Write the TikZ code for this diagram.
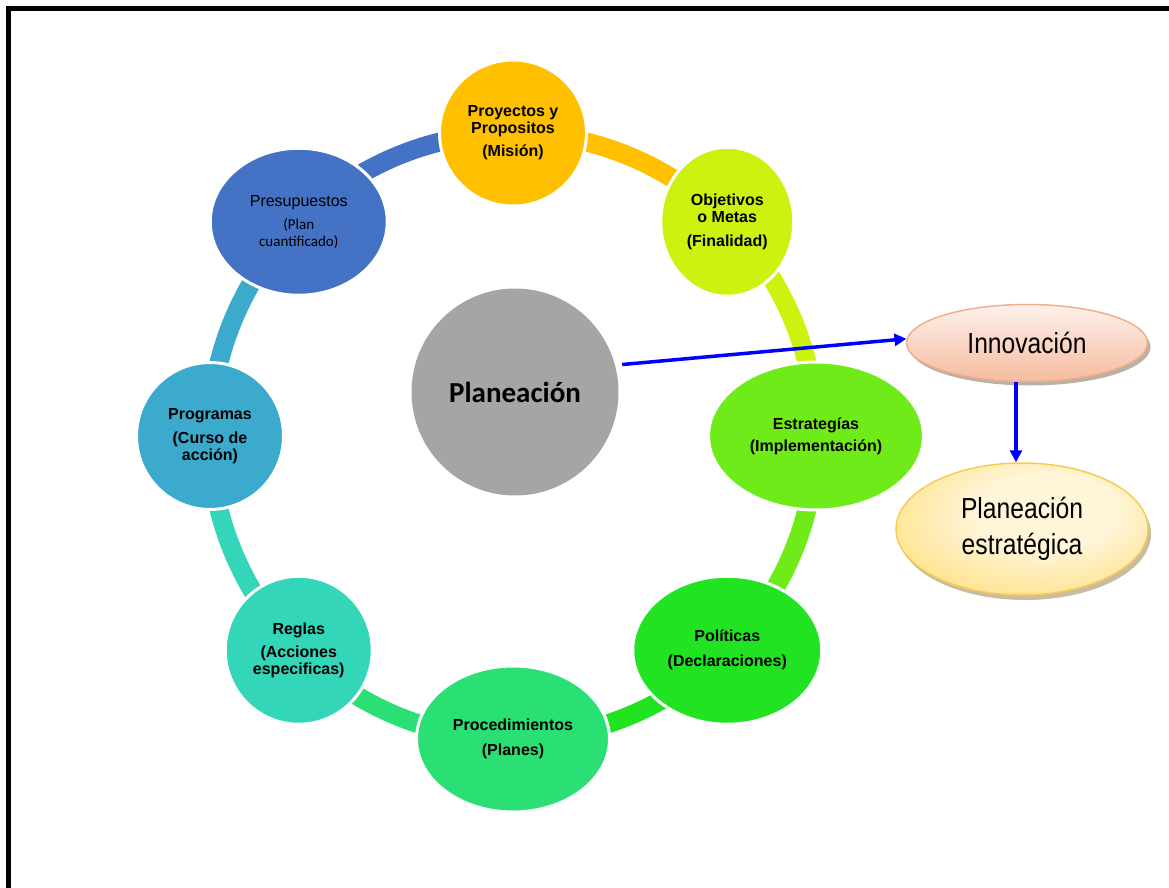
\documentclass[tikz,border=0pt]{standalone}
\usepackage{fontspec}
\setmainfont{Liberation Sans}
\newfontfamily\calfont{Carlito}
\newfontfamily\narrowfont[FakeStretch=0.85]{Liberation Sans}
\usetikzlibrary{shapes.geometric,shadows,calc,arrows.meta}

% stage colours, clockwise from the top
\definecolor{cProy}{HTML}{FFC000}
\definecolor{cObj}{HTML}{CCF20F}
\definecolor{cEst}{HTML}{70EB1A}
\definecolor{cPol}{HTML}{22E322}
\definecolor{cProc}{HTML}{2ADF74}
\definecolor{cReg}{HTML}{33D6B8}
\definecolor{cProg}{HTML}{3BAACC}
\definecolor{cPres}{HTML}{4472C4}
\definecolor{cCore}{HTML}{A5A5A5}
\definecolor{cLink}{HTML}{0000FF}
% side ellipses
\definecolor{innTop}{HTML}{FDF1EC}
\definecolor{innBot}{HTML}{F6BC9E}
\definecolor{innLine}{HTML}{F2AE88}
\definecolor{innShadow}{HTML}{9C8E80}
\definecolor{stratIn}{HTML}{FFF5D8}
\definecolor{stratMid}{HTML}{FFE595}
\definecolor{stratOut}{HTML}{FFD452}
\definecolor{stratLine}{HTML}{F8CB55}
\definecolor{stratShadow}{HTML}{B0A07A}

\pgfdeclareradialshading{goldglow}{\pgfpoint{6bp}{8bp}}{%
  color(0bp)=(stratIn); color(14bp)=(stratIn); color(30bp)=(stratMid);
  color(46bp)=(stratOut); color(70bp)=(stratOut)}

\begin{document}
\begin{tikzpicture}[x=1pt,y=1pt,
  ring/.style={line width=19pt},
  stage/.style={ellipse, draw=white, line width=3pt, inner sep=0pt,
    align=center, text=black,
    font=\bfseries\fontsize{16}{17}\selectfont},
  link/.style={draw=cLink, line width=3.5pt,
    -{Triangle[length=12pt,width=12pt]}},
]
\useasboundingbox (0,0) rectangle (1169,-888);

% page frame (top and left edges)
\draw[line width=5.5pt, line join=miter] (8.5,-888) -- (8.5,-8.5) -- (1169,-8.5);

% centre of the ring
\coordinate (c) at (513,-436);

% ring segments, each in the colour of the stage it leaves
\draw[ring, cPres] ($(c)+(135:303)$) arc[start angle=135, end angle=90,   radius=303];
\draw[ring, cProy] ($(c)+(90:303)$)  arc[start angle=90,  end angle=45,   radius=303];
\draw[ring, cObj]  ($(c)+(45:303)$)  arc[start angle=45,  end angle=0,    radius=303];
\draw[ring, cEst]  ($(c)+(0:303)$)   arc[start angle=0,   end angle=-45,  radius=303];
\draw[ring, cPol]  ($(c)+(-45:303)$) arc[start angle=-45, end angle=-90,  radius=303];
\draw[ring, cProc] ($(c)+(-90:303)$) arc[start angle=-90, end angle=-135, radius=303];
\draw[ring, cReg]  ($(c)+(-135:303)$) arc[start angle=-135, end angle=-180, radius=303];
\draw[ring, cProg] ($(c)+(180:303)$) arc[start angle=180, end angle=135,  radius=303];

% stages
\node[stage, fill=cProy, minimum width=147pt, minimum height=146pt] (proy)
  at ($(c)+(90:303)$) {Proyectos y\\Propositos\\[6pt](Misión)};
\node[stage, fill=cObj, minimum width=133pt, minimum height=149pt] (obj)
  at ($(c)+(45:303)$) {Objetivos\\o Metas\\[7pt](Finalidad)};
\node[stage, fill=cEst, minimum width=215pt, minimum height=148pt] (est)
  at ($(c)+(0:303)$) {Estrategías\\[5pt](Implementación)};
\node[stage, fill=cPol, minimum width=189pt, minimum height=148pt] (pol)
  at ($(c)+(-45:303)$) {Políticas\\[8pt](Declaraciones)};
\node[stage, fill=cProc, minimum width=193pt, minimum height=146pt] (proc)
  at ($(c)+(-90:303)$) {Procedimientos\\[8pt](Planes)};
\node[stage, fill=cReg, minimum width=147pt, minimum height=148pt] (reg)
  at ($(c)+(-135:303)$) {Reglas\\[6pt](Acciones\\especificas)};
\node[stage, fill=cProg, minimum width=147pt, minimum height=147pt] (prog)
  at ($(c)+(180:303)$) {Programas\\[7pt](Curso de\\acción)};
\node[stage, fill=cPres, minimum width=177pt, minimum height=147pt,
  font=\fontsize{16}{17}\selectfont] (pres)
  at ($(c)+(135:303)$) {Presupuestos\\[6pt]{\calfont\fontsize{15}{17}\selectfont (Plan}\\{\calfont\fontsize{15}{17}\selectfont cuantificado)}};

% core
\node[circle, fill=cCore, minimum size=207pt, inner sep=0pt,
  font=\calfont\bfseries\fontsize{29}{34}\selectfont] (core) at (515,-392) {Planeación};

% side ellipses
\node[ellipse, minimum width=241pt, minimum height=77pt, inner sep=0pt,
  top color=innTop, bottom color=innBot, draw=innLine, line width=1.5pt,
  drop shadow={shadow xshift=3pt, shadow yshift=-4pt, fill=innShadow, opacity=0.7},
  font=\narrowfont\fontsize{29}{36}\selectfont] (innov) at (1027,-343) {Innovación};
\node[ellipse, minimum width=252pt, minimum height=132pt, inner sep=0pt,
  shading=goldglow, draw=stratLine, line width=1.5pt, align=center,
  drop shadow={shadow xshift=3pt, shadow yshift=-5pt, fill=stratShadow, opacity=0.7},
  font=\narrowfont\fontsize{29}{36}\selectfont] (strat) at (1022,-529) {Planeación\\estratégica};

% connectors
\draw[link, shorten <=7pt] (core.15) -- (innov.178);
\draw[link] ([xshift=-11pt]innov.south) -- ([xshift=-11pt]innov.south |- strat.north);
\end{tikzpicture}
\end{document}
